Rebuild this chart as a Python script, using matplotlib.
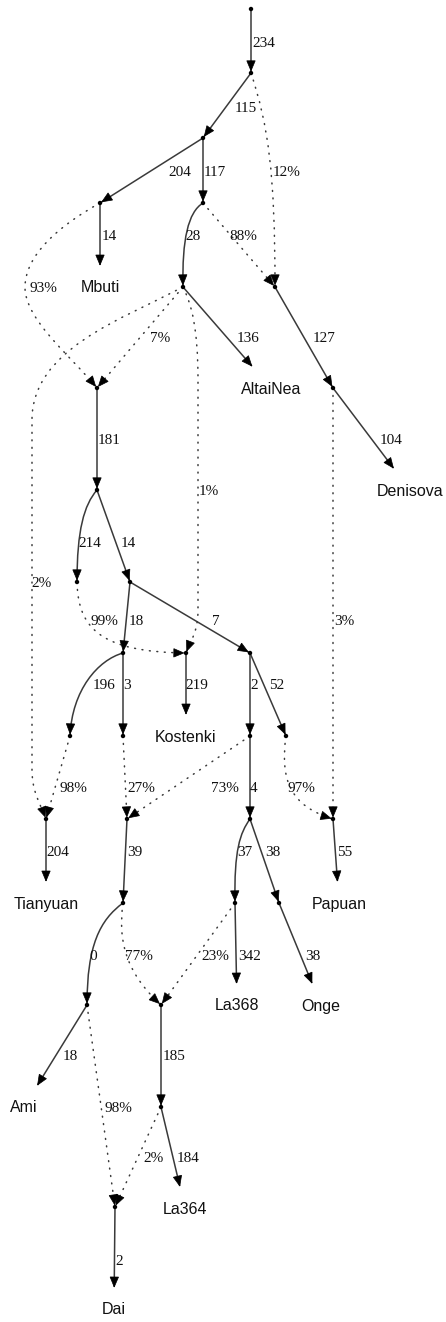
import numpy as np
import matplotlib
matplotlib.use('Agg')
import matplotlib.pyplot as plt
from matplotlib.path import Path
from matplotlib.patches import PathPatch, Polygon, Circle

# admixture graph: drift edges (src, dst, length)
tree_src = ['R', 'A', 'B', 'B', 'C', 'D', 'E', 'F', 'H', 'G', 'I', 'I', 'K', 'K', 'M', 'L',
            'L', 'P', 'P', 'S', 'T', 'Q', 'U', 'U', 'V', 'W', 'X', 'Y', 'Z', 'AA', 'CC', 'BB']
tree_dst = ['A', 'B', 'D', 'C', 'Mbuti', 'E', 'AltaiNea', 'H', 'Denisova', 'I', 'J', 'K', 'L', 'P',
            'Kostenki', 'N', 'O', 'Q', 'Rb', 'Tianyuan', 'W', 'U', 'X', 'Y', 'Papuan', 'Z', 'La368',
            'Onge', 'Ami', 'CC', 'La364', 'Dai']
tree_len = [234, 115, 117, 204, 14, 28, 136, 127, 104, 181, 214, 14, 18, 7, 219, 196,
            3, 2, 52, 204, 39, 4, 37, 38, 55, 0, 342, 38, 18, 185, 184, 2]

# admixture edges (src, dst, percent)
adm_src = ['A', 'D', 'C', 'E', 'E', 'E', 'J', 'H', 'N', 'O', 'Q', 'Rb', 'W', 'X', 'Z', 'CC']
adm_dst = ['F', 'F', 'G', 'G', 'S', 'M', 'M', 'V', 'S', 'T', 'T', 'V', 'AA', 'AA', 'BB', 'BB']
adm_pct = [12, 88, 93, 7, 2, 1, 99, 3, 98, 27, 73, 97, 77, 23, 98, 2]

leaves = ['Mbuti', 'AltaiNea', 'Denisova', 'Kostenki', 'Tianyuan', 'Papuan',
          'La368', 'Onge', 'Ami', 'La364', 'Dai']

# ---- layout (pixel coordinates, y down) ----
POS = {
    'R': (251, 9), 'A': (251, 73), 'B': (203, 138), 'C': (100, 203), 'D': (203, 203),
    'E': (183, 287), 'F': (275, 287), 'G': (97, 388), 'H': (333, 388), 'I': (97, 490),
    'J': (77, 582), 'K': (130, 582), 'L': (123, 653), 'M': (186, 653), 'P': (250, 653),
    'N': (70, 736), 'O': (123, 736), 'Q': (250, 736), 'Rb': (286, 736),
    'S': (46, 819), 'T': (127, 819), 'U': (250, 819), 'V': (333, 819),
    'W': (123, 903), 'X': (235, 903), 'Y': (279, 903),
    'Z': (87, 1005), 'AA': (161, 1005), 'CC': (161, 1107), 'BB': (115, 1207),
    'Mbuti': (100, 287), 'AltaiNea': (271, 388), 'Denisova': (410, 490),
    'Kostenki': (186, 736), 'Tianyuan': (46, 903), 'Papuan': (339, 903),
    'La368': (237, 1005), 'Onge': (321, 1005), 'Ami': (24, 1107),
    'La364': (185, 1208), 'Dai': (114, 1309),
}

ROUTES = {
    ('D', 'E'): [(188, 212), (182, 240)],
    ('I', 'J'): [(84, 505), (77, 530)],
    ('L', 'N'): [(98, 660), (72, 690)],
    ('U', 'X'): [(240, 833), (234, 850)],
    ('W', 'Z'): [(100, 920), (87, 945)],
    ('A', 'F'): [(268, 125), (275, 170)],
    ('C', 'G'): [(60, 225), (25, 255), (25, 287), (25, 320), (70, 355)],
    ('E', 'S'): [(120, 320), (32, 350), (32, 420), (32, 550), (32, 700), (32, 770),
                 (32, 792), (40, 803)],
    ('E', 'M'): [(192, 305), (198, 330), (198, 380), (198, 480), (198, 560), (198, 610),
                 (198, 632), (191, 640)],
    ('J', 'M'): [(78, 628), (100, 652)],
    ('Rb', 'V'): [(280, 780), (290, 806)],
    ('W', 'AA'): [(118, 940), (125, 972)],
}

TREE_LABEL_POS = [(264, 42), (246, 107), (215, 171), (180, 171), (109, 235), (193, 235),
                  (248, 337), (324, 337), (391, 439), (109, 439), (90, 542), (128, 542),
                  (136, 620), (216, 620), (197, 684), (104, 684), (127, 684), (254, 684),
                  (277, 684), (58, 851), (135, 851), (254, 787), (245, 851), (273, 851),
                  (345, 851), (93, 955), (250, 955), (313, 955), (70, 1055), (174, 1055),
                  (188, 1157), (119, 1260)]
ADM_LABEL_POS = [(287, 171), (243, 235), (43, 287), (160, 337), (42, 582), (209, 490),
                 (104, 620), (344, 620), (73, 787), (141, 787), (225, 787), (301, 787),
                 (139, 955), (215, 955), (118, 1107), (153, 1157)]

LINE = '#3a3a3a'
DOTS = '#3a3a3a'
NODE_R = 2.2
ARROW_L, ARROW_W = 10, 4.2


def edge_points(src, dst):
    p0 = np.array(POS[src], float)
    p1 = np.array(POS[dst], float)
    ctrl = [np.array(c, float) for c in ROUTES.get((src, dst), [])]
    if dst in leaves:
        # arrow stops just above the leaf label
        prev = ctrl[-1] if ctrl else p0
        ty = p1[1] - 22
        t = (ty - prev[1]) / (p1[1] - prev[1])
        p1 = prev + t * (p1 - prev)
    return [p0] + ctrl + [p1]


def draw_edge(ax, src, dst, dotted):
    pts = edge_points(src, dst)
    codes = [Path.MOVETO] + ([Path.LINETO] if len(pts) == 2 else [Path.CURVE4] * (len(pts) - 1))
    if dotted:
        patch = PathPatch(Path(pts, codes), fc='none', ec=DOTS, lw=1.1,
                          linestyle=(0, (0.6, 4.3)), capstyle='round')
    else:
        patch = PathPatch(Path(pts, codes), fc='none', ec=LINE, lw=1.1)
    ax.add_patch(patch)
    end = pts[-1]
    d = end - pts[-2]
    u = d / np.hypot(*d)
    tip = end if dst in leaves else end - u * NODE_R
    base = tip - u * ARROW_L
    nrm = np.array([-u[1], u[0]])
    ax.add_patch(Polygon([tip, base + nrm * ARROW_W, base - nrm * ARROW_W],
                         closed=True, fc='black', ec='black', lw=0.5, zorder=3))


fig = plt.figure(figsize=(4.46, 13.22), dpi=100)
ax = fig.add_axes([0, 0, 1, 1])
ax.set_xlim(0, 446)
ax.set_ylim(1322, 0)
ax.axis('off')

for s, d in zip(adm_src, adm_dst):
    draw_edge(ax, s, d, True)
for s, d in zip(tree_src, tree_dst):
    draw_edge(ax, s, d, False)

for name, (x, y) in POS.items():
    if name in leaves:
        ax.text(x, y + 5.5, name, ha='center', va='baseline', fontsize=11.5,
                family='Liberation Sans', color='#111111')
    else:
        ax.add_patch(Circle((x, y), NODE_R, fc='black', ec='none', zorder=4))

for val, (x, y) in zip(tree_len, TREE_LABEL_POS):
    ax.text(x, y + 5, str(val), ha='center', va='baseline', fontsize=11,
            family='Liberation Serif', color='#111111')
for val, (x, y) in zip(adm_pct, ADM_LABEL_POS):
    ax.text(x, y + 5, f'{val}%', ha='center', va='baseline', fontsize=11,
            family='Liberation Serif', color='#111111')

fig.savefig('out.png', dpi=100)
